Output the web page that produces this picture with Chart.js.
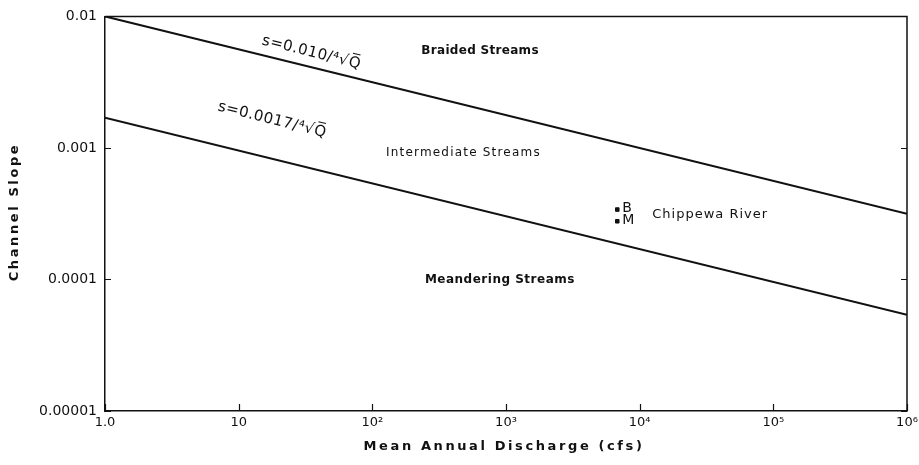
<!DOCTYPE html>
<html>
<head>
<meta charset="utf-8">
<script src="https://cdn.jsdelivr.net/npm/chart.js@4/dist/chart.umd.min.js"></script>
<style>
  html, body { margin: 0; padding: 0; background: #fff; }
  #wrap { width: 919px; height: 465px; }
</style>
</head>
<body>
<div id="wrap"><canvas id="slopeChart" width="919" height="465"></canvas></div>
<script>
// values
const discharge = [1, 1e6];
const braidedLimit = [0.01, 0.000316];   // s = 0.010 / Q^0.25
const meanderLimit = [0.0017, 0.000054]; // s = 0.0017 / Q^0.25
const chippewaQ = [6800, 6800];
const chippewaS = [0.00034, 0.000277];
const chippewaNames = ["B", "M"];

const xTickValues = [1, 10, 100, 1e3, 1e4, 1e5, 1e6];
const xTickLabels = ["1.0", "10", "10²", "10³", "10⁴", "10⁵", "10⁶"];
const yTickValues = [1e-5, 1e-4, 1e-3, 1e-2];
const yTickLabels = ["0.00001", "0.0001", "0.001", "0.01"];

// text placed in data coordinates
const notes = [
  { text: "Braided Streams", x: 640, y: 0.0055, font: "bold 12px", spacing: 0.3 },
  { text: "Intermediate Streams", x: 480, y: 0.00091, font: "12px", spacing: 1.2 },
  { text: "Meandering Streams", x: 900, y: 0.0000993, font: "bold 12px", spacing: 0.5 },
  { text: "s=0.010/⁴√Q̅", x: 35, y: 0.0053, font: "15px", spacing: 0.5, rotate: 14 },
  { text: "s=0.0017/⁴√Q̅", x: 17.8, y: 0.00163, font: "15px", spacing: 0.5, rotate: 14 }
];

const ink = "#111";
const font = "'DejaVu Sans', sans-serif";

function toPairs(xs, ys) {
  return xs.map((x, i) => ({ x: x, y: ys[i] }));
}

// frame, inward ticks, axis titles and the text notes
const extras = {
  id: "extras",
  afterDraw(chart) {
    const ctx = chart.ctx;
    const area = chart.chartArea;
    const xs = chart.scales.x;
    const ys = chart.scales.y;
    ctx.save();
    ctx.strokeStyle = ink;
    ctx.lineWidth = 1.5;
    ctx.beginPath();
    ctx.moveTo(area.left, area.top);
    ctx.lineTo(area.right, area.top);
    ctx.lineTo(area.right, area.bottom);
    ctx.stroke();

    ctx.lineWidth = 1.2;
    xTickValues.forEach(v => {
      const px = Math.round(xs.getPixelForValue(v)) + 0.5;
      ctx.beginPath();
      ctx.moveTo(px, area.bottom);
      ctx.lineTo(px, area.bottom - 7);
      ctx.stroke();
    });
    yTickValues.forEach(v => {
      const py = Math.round(ys.getPixelForValue(v)) + 0.5;
      ctx.beginPath();
      ctx.moveTo(area.left, py);
      ctx.lineTo(area.left + 6, py);
      ctx.moveTo(area.right, py);
      ctx.lineTo(area.right - 6, py);
      ctx.stroke();
    });

    ctx.fillStyle = ink;
    ctx.textBaseline = "middle";
    ctx.textAlign = "center";
    notes.forEach(n => {
      ctx.save();
      ctx.translate(xs.getPixelForValue(n.x), ys.getPixelForValue(n.y));
      if (n.rotate) ctx.rotate(n.rotate * Math.PI / 180);
      ctx.font = n.font + " " + font;
      ctx.letterSpacing = n.spacing + "px";
      ctx.fillText(n.text, 0, 0);
      ctx.restore();
    });

    // axis titles, widely spaced like the original lettering
    ctx.font = "bold 13px " + font;
    ctx.letterSpacing = "2.6px";
    ctx.fillText("Mean Annual Discharge (cfs)", 504, 447);
    ctx.save();
    ctx.translate(15, 212);
    ctx.rotate(-Math.PI / 2);
    ctx.fillText("Channel Slope", 0, 0);
    ctx.restore();

    // Chippewa River labels next to the two points
    ctx.font = "14px " + font;
    ctx.letterSpacing = "0px";
    ctx.textAlign = "left";
    chippewaQ.forEach((q, i) => {
      ctx.fillText(chippewaNames[i], xs.getPixelForValue(q) + 5, ys.getPixelForValue(chippewaS[i]) - 1);
    });
    const midS = Math.sqrt(chippewaS[0] * chippewaS[1]);
    ctx.font = "13px " + font;
    ctx.letterSpacing = "1px";
    ctx.fillText("Chippewa River", xs.getPixelForValue(chippewaQ[0]) + 35, ys.getPixelForValue(midS) - 1);
    ctx.restore();
  }
};

const ctx = document.getElementById("slopeChart").getContext("2d");
const slopeChart = new Chart(ctx, {
  type: "line",
  data: {
    datasets: [
      {
        label: "Braided limit",
        data: toPairs(discharge, braidedLimit),
        borderColor: ink,
        borderWidth: 2,
        pointRadius: 0
      },
      {
        label: "Meandering limit",
        data: toPairs(discharge, meanderLimit),
        borderColor: ink,
        borderWidth: 2,
        pointRadius: 0
      },
      {
        type: "scatter",
        label: "Chippewa River",
        data: toPairs(chippewaQ, chippewaS),
        backgroundColor: ink,
        borderColor: ink,
        pointStyle: "rect",
        pointRadius: 2.5
      }
    ]
  },
  options: {
    responsive: false,
    animation: false,
    layout: { padding: { left: 0, right: 12, top: 14, bottom: 0 } },
    plugins: {
      legend: { display: false },
      tooltip: { enabled: false }
    },
    scales: {
      x: {
        type: "logarithmic",
        min: 1,
        max: 1e6,
        afterBuildTicks(scale) {
          scale.ticks = xTickValues.map(v => ({ value: v }));
        },
        afterFit(scale) {
          scale.height = 54;
          scale.paddingLeft = 0;
          scale.paddingRight = 0;
        },
        grid: { display: false, drawTicks: false },
        border: { display: true, color: ink, width: 1.5 },
        ticks: {
          color: ink,
          padding: 4,
          maxRotation: 0,
          autoSkip: false,
          font: { family: font, size: 13 },
          callback: function(value) {
            const i = xTickValues.indexOf(value);
            return i >= 0 ? xTickLabels[i] : "";
          }
        }
      },
      y: {
        type: "logarithmic",
        min: 1e-5,
        max: 1e-2,
        afterBuildTicks(scale) {
          scale.ticks = yTickValues.map(v => ({ value: v }));
        },
        afterFit(scale) { scale.width = 105; },
        grid: { display: false, drawTicks: false },
        border: { display: true, color: ink, width: 1.5 },
        ticks: {
          color: ink,
          padding: 8,
          autoSkip: false,
          font: { family: font, size: 14 },
          callback: function(value) {
            const i = yTickValues.indexOf(value);
            return i >= 0 ? yTickLabels[i] : "";
          }
        }
      }
    }
  },
  plugins: [extras]
});
</script>
</body>
</html>
